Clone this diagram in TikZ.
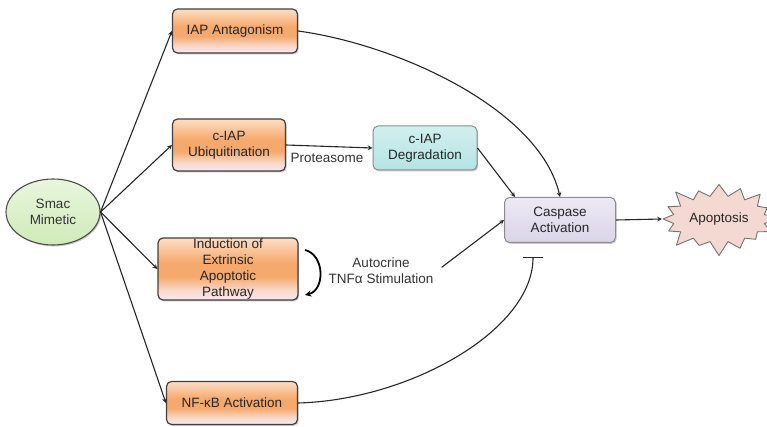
\documentclass[tikz,border=0pt]{standalone}
\usepackage{fontspec}
\setmainfont{Liberation Sans}
\usetikzlibrary{shapes.geometric,shapes.symbols,shadows,arrows.meta}
\definecolor{orgtop}{HTML}{FCDEC6}
\definecolor{orgmid}{HTML}{F6A96C}
\definecolor{orgpale}{HTML}{F9D8C8}
\definecolor{orgbot}{HTML}{F8E8F2}
\definecolor{cyanbox}{HTML}{B4E4E4}
\definecolor{lilac}{HTML}{DAD4E8}
\definecolor{greenel}{HTML}{CFEBB8}
\definecolor{burst}{HTML}{F4D8D2}
\pgfdeclareverticalshading{orgshade}{100bp}{color(0bp)=(orgbot); color(25bp)=(orgbot); color(33bp)=(orgpale); color(44bp)=(orgmid); color(55bp)=(orgmid); color(75bp)=(orgtop); color(100bp)=(orgtop)}
\begin{document}
\begin{tikzpicture}[x=1pt,y=-1pt,line join=round,>=stealth,
	font=\fontsize{13.5}{16.3}\selectfont,
	shade/.style={drop shadow={shadow xshift=1.2pt,shadow yshift=-1.4pt,opacity=.3,fill=black!70}},
	obox/.style={draw=black!75,line width=1.2pt,rounded corners=5pt,shading=orgshade,shade,align=center,inner sep=0pt,text=black!85},
	cbox/.style={draw=black!45,line width=1pt,rounded corners=5pt,top color=cyanbox!60,bottom color=cyanbox,shade,align=center,inner sep=0pt,text=black!85},
	lbox/.style={draw=black!45,line width=1pt,rounded corners=5pt,top color=lilac!50,bottom color=lilac,shade,align=center,inner sep=0pt,text=black!85},
	lbl/.style={align=center,text=black!80},
	link/.style={->,line width=1.1pt,black!85}]
	\useasboundingbox (0,0) rectangle (767,427);
	% nodes
	\node[ellipse,draw=black!70,line width=1.1pt,top color=greenel!45,bottom color=greenel,shade,align=center,text=black!80,minimum width=94pt,minimum height=66pt,inner sep=0pt] (smac) at (53,212) {Smac\\Mimetic};
	\node[obox,minimum width=125pt,minimum height=44pt] (iap) at (235,31) {IAP Antagonism};
	\node[obox,minimum width=113pt,minimum height=52pt] (ubiq) at (229,145) {c-IAP\\Ubiquitination};
	\node[obox,minimum width=140pt,minimum height=62pt] (ind) at (228,269) {Induction of\\Extrinsic\\Apoptotic\\Pathway};
	\node[obox,minimum width=131pt,minimum height=43pt] (nfkb) at (232,403) {NF-κB Activation};
	\node[cbox,minimum width=104pt,minimum height=44pt] (degr) at (425,148) {c-IAP\\Degradation};
	\node[lbox,minimum width=111pt,minimum height=45pt] (casp) at (560,220) {Caspase\\Activation};
	\node[starburst,starburst points=16,starburst point height=16pt,draw=black!55,line width=.9pt,fill=burst,text=black!85,inner xsep=3pt,inner ysep=10pt] (apop) at (719,219) {Apoptosis};
	\node[lbl] (prot) at (327,158) {Proteasome};
	\node[lbl] (tnf) at (381,271) {Autocrine\\TNFα Stimulation};
	\coordinate (ta) at (305,250);
	\coordinate (tb) at (305,295);
	\coordinate (inh) at ([xshift=-27pt,yshift=-14pt]casp.south);
	% connectors
	\foreach \b in {iap,ubiq,ind,nfkb}
	\draw[link] (smac.east)--(\b.west);
	\draw[link] (ubiq.east)--(degr.west);
	\draw[link] (degr.east)--([xshift=11pt]casp.north west);
	\draw[link] (iap.east) .. controls (400,45) and (540,110) .. (casp.north);
	\draw[link,shorten <=6pt] (tnf.east)--(casp.west);
	\draw[link] (casp.east)--(apop.west);
	\draw[->,line width=1.8pt] (ta) .. controls (325,255) and (325,290) .. (tb);
	\draw[-{Bar[width=20pt,line width=1.1pt]},line width=1.1pt,black!85] (nfkb.east) .. controls (410,400) and (533,330) .. (inh);
\end{tikzpicture}
\end{document}
